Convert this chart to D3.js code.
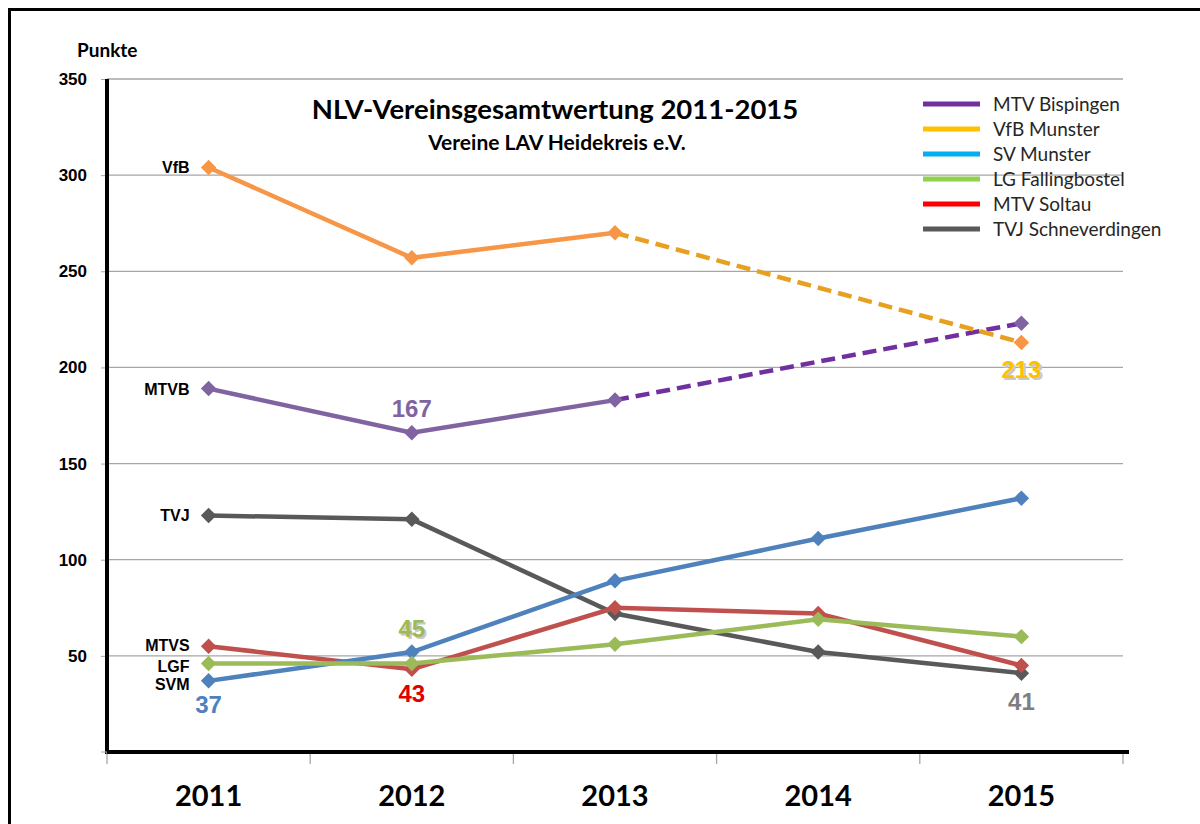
<!DOCTYPE html>
<html>
<head>
<meta charset="utf-8">
<script src="https://cdn.jsdelivr.net/npm/d3@7"></script>
<style>
  body { margin: 0; background: #fff; }
  svg { display: block; }
  .lbl { font-family: "Liberation Sans", Arial, sans-serif; font-weight: bold; }
  .cal { font-family: Lato, "Open Sans", sans-serif; }
</style>
</head>
<body>
<div id="chart-container"></div>
<script>
// chart data
var years = ["2011", "2012", "2013", "2014", "2015"];
var yTicks = [50, 100, 150, 200, 250, 300, 350];

var mtvb = [189, 166, 183, null, 223];
var vfb = [304, 257, 270, null, 213];
var svm = [37, 52, 89, 111, 132];
var lgf = [46, 46, 56, 69, 60];
var mtvs = [55, 43, 75, 72, 45];
var tvj = [123, 121, 72, 52, 41];

var legendNames = ["MTV Bispingen", "VfB Munster", "SV Munster", "LG Fallingbostel", "MTV Soltau", "TVJ Schneverdingen"];
var legendColors = ["#7030A0", "#FFC000", "#00B0F0", "#92D050", "#FF0000", "#595959"];

// short names written left of 2011
var shortNames = ["VfB", "MTVB", "TVJ", "MTVS", "LGF", "SVM"];

function create_chart() {
    var W = 1200, H = 824;
    var margin = { top: 79, right: 77, bottom: 72, left: 107 };

    var svg = d3.select("#chart-container")
        .append("svg")
        .attr("width", W)
        .attr("height", H);

    // outer frame
    svg.append("rect")
        .attr("x", 9.5).attr("y", 9.5)
        .attr("width", 1300).attr("height", 1000)
        .attr("fill", "none")
        .attr("stroke", "#000")
        .attr("stroke-width", 3);

    var xScale = d3.scaleBand()
        .domain(years)
        .range([margin.left, W - margin.right]);
    var xc = function(i) { return xScale(years[i]) + xScale.bandwidth() / 2; };
    var yScale = d3.scaleLinear()
        .domain([0, 350])
        .range([H - margin.bottom, margin.top]);

    var x0 = margin.left, x1 = W - margin.right, yb = H - margin.bottom;

    // gridlines
    svg.append("g").selectAll("line")
        .data(yTicks)
        .enter().append("line")
        .attr("x1", x0).attr("x2", x1)
        .attr("y1", d => yScale(d)).attr("y2", d => yScale(d))
        .attr("stroke", "#a6a6a6")
        .attr("stroke-width", 1.3);

    // y axis
    var yAxis = d3.axisLeft(yScale).tickValues(yTicks).tickSize(6).tickPadding(14);
    var gy = svg.append("g")
        .attr("transform", `translate(${x0},0)`)
        .call(yAxis);
    gy.select(".domain").remove();
    gy.selectAll(".tick line").attr("stroke", "#a6a6a6");
    gy.selectAll(".tick text")
        .attr("class", "lbl")
        .style("font-size", "17px")
        .attr("fill", "#000");
    gy.append("line")
        .attr("x1", 0).attr("x2", 0)
        .attr("y1", margin.top).attr("y2", yb + 2)
        .attr("stroke", "#000").attr("stroke-width", 4);
    gy.append("line")
        .attr("x1", -6).attr("x2", 0)
        .attr("y1", yb).attr("y2", yb)
        .attr("stroke", "#a6a6a6");

    // x axis with ticks between categories
    var bounds = years.map(y => xScale(y)).concat([x1]);
    svg.append("g").selectAll("line")
        .data(bounds)
        .enter().append("line")
        .attr("x1", d => d).attr("x2", d => d)
        .attr("y1", yb).attr("y2", yb + 12)
        .attr("stroke", "#a6a6a6").attr("stroke-width", 1.3);
    svg.append("line")
        .attr("x1", x0).attr("x2", x1 + 6)
        .attr("y1", yb).attr("y2", yb)
        .attr("stroke", "#000").attr("stroke-width", 4);
    svg.append("g").selectAll("text")
        .data(years)
        .enter().append("text")
        .attr("class", "cal")
        .attr("x", d => xScale(d) + xScale.bandwidth() / 2)
        .attr("y", 806)
        .attr("text-anchor", "middle")
        .style("font-size", "29px")
        .style("font-weight", "bold")
        .text(d => d);

    // y axis title
    svg.append("text")
        .attr("class", "cal")
        .attr("x", 77).attr("y", 57)
        .style("font-size", "19px").style("font-weight", "bold")
        .text("Punkte");

    // titles
    svg.append("text")
        .attr("class", "cal")
        .attr("x", 555).attr("y", 119)
        .attr("text-anchor", "middle")
        .style("font-size", "27.5px").style("font-weight", "bold")
        .text("NLV-Vereinsgesamtwertung 2011-2015");
    svg.append("text")
        .attr("class", "cal")
        .attr("x", 557).attr("y", 150)
        .attr("text-anchor", "middle")
        .style("font-size", "21px").style("font-weight", "bold")
        .text("Vereine LAV Heidekreis e.V.");

    // series lines
    var line = d3.line()
        .defined(d => d.v !== null)
        .x(d => xc(d.i))
        .y(d => yScale(d.v));
    var pts = function(arr) { return arr.map((v, i) => ({ i: i, v: v })); };

    var series = [
        { vals: tvj, color: "#595959" },
        { vals: mtvs, color: "#C0504D" },
        { vals: svm, color: "#4F81BD" },
        { vals: lgf, color: "#9BBB59" },
        { vals: mtvb, color: "#8064A2", dash: "#7030A0" },
        { vals: vfb, color: "#F79646", dash: "#E8A020" }
    ];

    var marker = d3.symbol().type(d3.symbolSquare).size(120);

    series.forEach(function(s) {
        var p = pts(s.vals);
        if (s.dash) {
            // solid part up to 2013, dashed projection to 2015
            svg.append("path")
                .datum(p.slice(0, 3))
                .attr("d", line)
                .attr("fill", "none")
                .attr("stroke", s.color)
                .attr("stroke-width", 4.5);
            svg.append("path")
                .datum([p[2], p[4]])
                .attr("d", line)
                .attr("fill", "none")
                .attr("stroke", s.dash)
                .attr("stroke-width", 4.5)
                .attr("stroke-dasharray", "14,7");
        } else {
            svg.append("path")
                .datum(p)
                .attr("d", line)
                .attr("fill", "none")
                .attr("stroke", s.color)
                .attr("stroke-width", 4.5);
        }
        svg.append("g").selectAll("path")
            .data(p.filter(d => d.v !== null))
            .enter().append("path")
            .attr("d", marker)
            .attr("transform", d => `translate(${xc(d.i)},${yScale(d.v)}) rotate(45)`)
            .attr("fill", s.color);
    });

    // short names left of 2011
    var firstVals = [vfb[0], mtvb[0], tvj[0], mtvs[0], lgf[0], svm[0]];
    var offs = [0, 0, 0, -1, 2, 3];
    svg.append("g").selectAll("text")
        .data(shortNames)
        .enter().append("text")
        .attr("class", "lbl")
        .attr("x", xc(0) - 19)
        .attr("y", (d, i) => yScale(firstVals[i]) + 6 + offs[i])
        .attr("text-anchor", "end")
        .style("font-size", "16px")
        .attr("fill", "#000")
        .text(d => d);

    // data labels
    var dataLabels = [
        { i: 1, v: mtvb[1], dy: -16, text: "167", color: "#8064A2" },
        { i: 4, v: vfb[4], dy: 36, text: "213", color: "#FFC000", shadow: true },
        { i: 0, v: svm[0], dy: 32, text: "37", color: "#4F81BD" },
        { i: 1, v: lgf[1], dy: -27, text: "45", color: "#9BBB59", shadow: true },
        { i: 1, v: mtvs[1], dy: 33, text: "43", color: "#E00000" },
        { i: 4, v: tvj[4], dy: 37, text: "41", color: "#7F7F7F" }
    ];
    var gl = svg.append("g");
    dataLabels.forEach(function(d) {
        if (d.shadow) {
            gl.append("text")
                .attr("class", "lbl")
                .attr("x", xc(d.i) + 2).attr("y", yScale(d.v) + d.dy + 2)
                .attr("text-anchor", "middle")
                .style("font-size", "24px")
                .attr("fill", "#c8c8c8")
                .text(d.text);
        }
        gl.append("text")
            .attr("class", "lbl")
            .attr("x", xc(d.i)).attr("y", yScale(d.v) + d.dy)
            .attr("text-anchor", "middle")
            .style("font-size", "24px")
            .attr("fill", d.color)
            .text(d.text);
    });

    // legend
    var lg = svg.append("g").attr("transform", "translate(923,104)");
    var items = lg.selectAll("g")
        .data(legendNames)
        .enter().append("g")
        .attr("transform", (d, i) => `translate(0,${i * 25})`);
    items.append("line")
        .attr("x1", 0).attr("x2", 57)
        .attr("y1", 0).attr("y2", 0)
        .attr("stroke", (d, i) => legendColors[i])
        .attr("stroke-width", 5);
    items.append("text")
        .attr("class", "cal")
        .attr("x", 70).attr("y", 6.5)
        .style("font-size", "19px")
        .attr("fill", "#262626")
        .text(d => d);
}

create_chart();
</script>
</body>
</html>
